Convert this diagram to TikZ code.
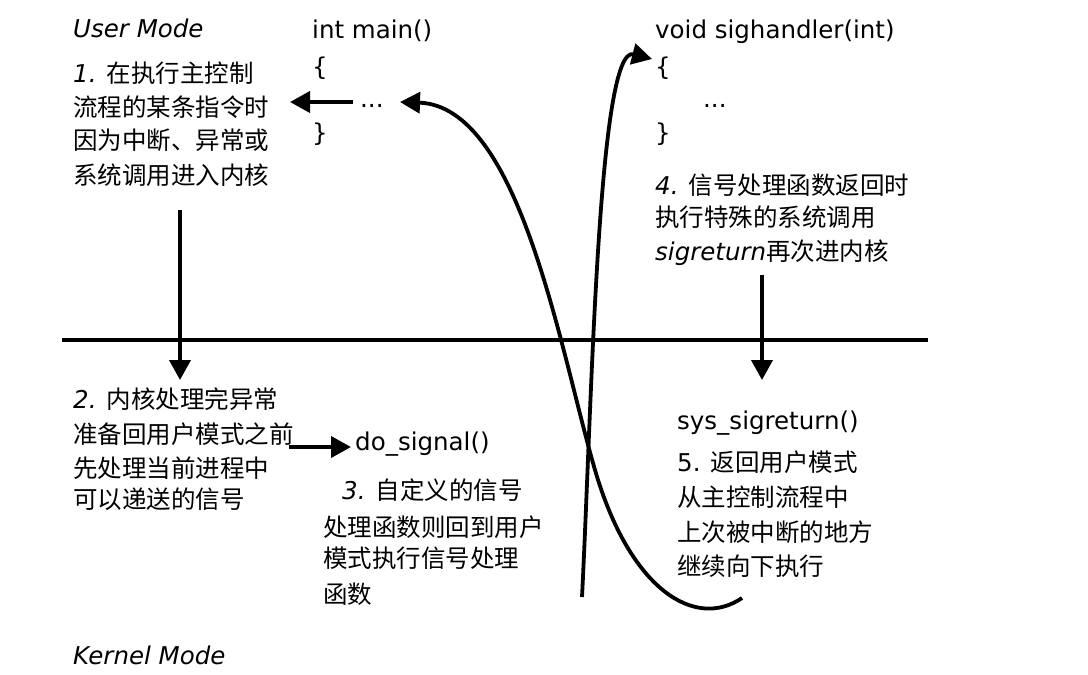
\documentclass[tikz,border=0pt]{standalone}
\usepackage{fontspec}
\setmainfont{DejaVu Sans}
\newfontfamily\cjk{Noto Sans CJK SC}
\usetikzlibrary{arrows.meta}
\begin{document}
\begin{tikzpicture}[x=1pt,y=-1pt,
  txt/.style={inner sep=0pt, anchor=base west, font=\fontsize{24.5}{30}\selectfont},
  ln/.style={line width=3.8pt, black},
  arr/.style={ln, -{Triangle[length=20pt,width=21pt]}}]
\useasboundingbox (0,0) rectangle (1088,675);
\fill[white] (0,0) rectangle (1088,675);

% headers
\node[txt] (um) at (73,37) {\itshape User Mode};
\node[txt] (km) at (73,664) {\itshape Kernel Mode};
\node[txt] (main) at (312,38) {int main()};
\node[txt] (mob) at (312,75) {\{};
\node[txt] (mdots) at (360,107) {...};
\node[txt] (mcb) at (312,141) {\}};
\node[txt] (sh) at (655,38) {void sighandler(int)};
\node[txt] (sob) at (655,75) {\{};
\node[txt] (sdots) at (703,107) {...};
\node[txt] (scb) at (655,141) {\}};

% text 1
\node[txt] (t1a) at (73,82) {\itshape 1.\upshape{} {\cjk 在执行主控制}};
\node[txt] (t1b) at (73,116) {\cjk 流程的某条指令时};
\node[txt] (t1c) at (73,149) {\cjk 因为中断、异常或};
\node[txt] (t1d) at (73,184) {\cjk 系统调用进入内核};

% text 2
\node[txt] (t2a) at (73,408) {\itshape 2.\upshape{} {\cjk 内核处理完异常}};
\node[txt] (t2b) at (73,443) {\cjk 准备回用户模式之前};
\node[txt] (t2c) at (73,477) {\cjk 先处理当前进程中};
\node[txt] (t2d) at (73,508) {\cjk 可以递送的信号};

% do_signal and text 3
\node[txt] (ds) at (355,450) {do\_signal()};
\node[txt] (t3a) at (342,499) {\itshape 3.\upshape{} {\cjk 自定义的信号}};
\node[txt] (t3b) at (323,536) {\cjk 处理函数则回到用户};
\node[txt] (t3c) at (323,567) {\cjk 模式执行信号处理};
\node[txt] (t3d) at (323,603) {\cjk 函数};

% text 4
\node[txt] (t4a) at (655,194) {\itshape 4.\upshape{} {\cjk 信号处理函数返回时}};
\node[txt] (t4b) at (655,226) {\cjk 执行特殊的系统调用};
\node[txt] (t4c) at (655,260) {\itshape sigreturn\upshape{\cjk 再次进内核}};

% sys_sigreturn and text 5
\node[txt] (ssr) at (677,429) {sys\_sigreturn()};
\node[txt] (t5a) at (677,471) {5. {\cjk 返回用户模式}};
\node[txt] (t5b) at (677,506) {\cjk 从主控制流程中};
\node[txt] (t5c) at (677,541) {\cjk 上次被中断的地方};
\node[txt] (t5d) at (677,575) {\cjk 继续向下执行};

% connector end points
\coordinate (lineL) at (62,340);
\coordinate (lineR) at (928,340);
\coordinate (d1s) at (180,210);
\coordinate (d1e) at (180,380);
\coordinate (d2s) at (762,275);
\coordinate (d2e) at (762,380);
\coordinate (las) at (353,102);
\coordinate (lae) at (290,102);
\coordinate (ras) at (289,447);
\coordinate (rae) at (351,447);
\coordinate (cas) at (742,598);
\coordinate (cam) at (595,470);
\coordinate (cae) at (400,102);
\coordinate (cbs) at (582,597);
\coordinate (cbe) at (652,59);

% mode boundary
\draw[line width=4.5pt] (lineL) -- (lineR);

% arrows
\draw[arr] (d1s) -- (d1e);
\draw[arr] (d2s) -- (d2e);
\draw[arr] (las) -- (lae);
\draw[arr] (ras) -- (rae);

% curves
\draw[arr] (cas) .. controls (695,630) and (630,590) .. (cam)
  .. controls (560,350) and (520,106) .. (cae);
\draw[arr] (cbs) .. controls (592,400) and (598,45) .. (cbe);
\end{tikzpicture}
\end{document}
